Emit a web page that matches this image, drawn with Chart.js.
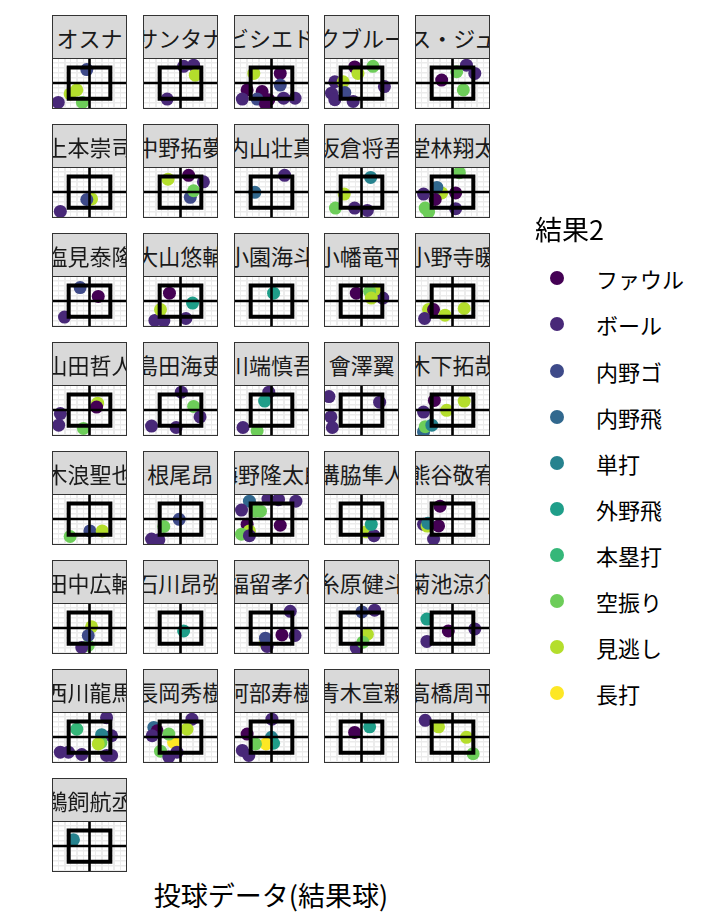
<!DOCTYPE html>
<html><head><meta charset="utf-8">
<script src="https://cdn.jsdelivr.net/npm/chart.js@4.4.0/dist/chart.umd.min.js"></script>
<style>
body{margin:0;width:720px;height:921px;background:#fff;position:relative;overflow:hidden;font-family:"Noto Sans CJK JP","Noto Sans",sans-serif;}
.strip{position:absolute;width:75px;height:44px;box-sizing:border-box;border:1.3px solid #333;background:#d9d9d9;display:flex;justify-content:center;align-items:center;overflow:hidden;font-size:22px;color:#1a1a1a;white-space:nowrap;}
.plot{position:absolute;width:75px;height:50px;}
.frame{position:absolute;box-sizing:border-box;border:1.3px solid #333;width:75px;height:51px;pointer-events:none;}
.lgTitle{position:absolute;left:535px;top:212px;font-size:27px;line-height:34px;color:#000;white-space:nowrap;}
.lgDot{position:absolute;width:14px;height:14px;border-radius:50%;}
.lgLab{position:absolute;font-size:22px;line-height:30px;color:#000;white-space:nowrap;}
.xTitle{position:absolute;left:0;width:542px;top:878px;text-align:center;font-size:27px;line-height:34px;color:#000;}
</style></head>
<body>
<script>
const results = ["ファウル","ボール","内野ゴ","内野飛","単打","外野飛","本塁打","空振り","見逃し","長打"];
const resultColors = ["#440154","#482878","#3E4A89","#31688E","#26828E","#1F9E89","#35B779","#6DCD59","#B4DE2C","#FDE725"];
const players = ["オスナ","サンタナ","ビシエド","マクブルーム","ロハス・ジュニア","上本崇司","中野拓夢","内山壮真","坂倉将吾","堂林翔太","塩見泰隆","大山悠輔","小園海斗","小幡竜平","小野寺暖","山田哲人","島田海吏","川端慎吾","會澤翼","木下拓哉","木浪聖也","根尾昂","梅野隆太郎","溝脇隼人","熊谷敬宥","田中広輔","石川昂弥","福留孝介","糸原健斗","菊池涼介","西川龍馬","長岡秀樹","阿部寿樹","青木宣親","高橋周平","鵜飼航丞"];
const xRange = [-1.8, 1.8];
const yRange = [-1.6, 1.6];
const zoneX = [-1, 1];
const zoneY = [-1, 1];
const xTitle = "投球データ(結果球)";
const legendTitle = "結果2";
// [player, x, y, result]
const pitches = [
["オスナ",-0.13,0.86,"内野ゴ"],["オスナ",-0.93,-0.7,"見逃し"],["オスナ",-0.61,-0.44,"見逃し"],["オスナ",-1.5,-1.24,"ボール"],["オスナ",-0.34,-1.24,"空振り"],
["サンタナ",0.15,1.07,"ボール"],["サンタナ",0.63,1.14,"ボール"],["サンタナ",0.71,0.5,"見逃し"],["サンタナ",-0.64,-1.03,"ボール"],
["ビシエド",-0.85,0.61,"見逃し"],["ビシエド",0.42,0.61,"ファウル"],["ビシエド",0.42,-0.13,"内野ゴ"],["ビシエド",-1.17,-0.44,"ファウル"],["ビシエド",-0.45,-0.55,"ファウル"],["ビシエド",-1.40,-1.03,"ボール"],["ビシエド",-0.69,-1.03,"内野ゴ"],["ビシエド",-0.13,-1.07,"ファウル"],["ビシエド",0.58,-0.97,"ボール"],["ビシエド",1.13,-0.97,"ボール"],["ビシエド",-0.29,-1.33,"ファウル"],
["マクブルーム",-0.33,1.03,"ファウル"],["マクブルーム",0.55,1.07,"空振り"],["マクブルーム",-0.17,0.61,"見逃し"],["マクブルーム",-1.28,0.08,"ボール"],["マクブルーム",-0.88,0.08,"見逃し"],["マクブルーム",-1.44,-0.65,"ボール"],["マクブルーム",-0.80,-0.61,"内野ゴ"],["マクブルーム",-1.28,-1.07,"ボール"],["マクブルーム",-0.40,-1.18,"ボール"],["マクブルーム",1.10,-0.23,"ボール"],
["ロハス・ジュニア",0.67,1.14,"ボール"],["ロハス・ジュニア",0.2,0.72,"空振り"],["ロハス・ジュニア",1.07,0.61,"ボール"],["ロハス・ジュニア",-0.52,0.19,"ファウル"],["ロハス・ジュニア",0.52,-0.44,"空振り"],
["上本崇司",0.1,-0.44,"見逃し"],["上本崇司",-0.13,-0.48,"内野ゴ"],["上本崇司",-1.40,-1.24,"ボール"],
["中野拓夢",-0.6,0.82,"見逃し"],["中野拓夢",0.39,1.07,"ファウル"],["中野拓夢",1.10,0.65,"ボール"],["中野拓夢",0.47,-0.34,"内野ゴ"],["中野拓夢",0.63,0.08,"空振り"],
["内山壮真",0.63,1.07,"ボール"],["内山壮真",-0.80,-0.02,"内野飛"],
["坂倉将吾",0.44,0.93,"単打"],["坂倉将吾",-0.83,-0.13,"見逃し"],["坂倉将吾",-1.25,-1.03,"空振り"],["坂倉将吾",-0.33,-1.03,"ボール"],["坂倉将吾",0.28,-1.18,"ボール"],
["堂林翔太",0.33,1.24,"空振り"],["堂林翔太",-0.52,-0.06,"見逃し"],["堂林翔太",-0.75,0.29,"内野飛"],["堂林翔太",-1.39,-0.13,"ボール"],["堂林翔太",-0.83,-0.48,"ファウル"],["堂林翔太",0.15,-0.06,"ファウル"],["堂林翔太",-1.31,-1.03,"空振り"],["堂林翔太",0.15,-1.07,"ボール"],["堂林翔太",-1.15,-1.28,"空振り"],
["塩見泰隆",-0.45,0.86,"内野ゴ"],["塩見泰隆",0.42,0.29,"ファウル"],["塩見泰隆",-1.20,-1.03,"ボール"],
["大山悠輔",-0.53,0.5,"ファウル"],["大山悠輔",0.58,-0.13,"外野飛"],["大山悠輔",-1.23,-1.24,"ボール"],["大山悠輔",-0.80,-1.28,"ボール"],["大山悠輔",-0.96,-0.55,"見逃し"],["大山悠輔",0.26,-1.12,"ボール"],
["小園海斗",0.10,0.5,"外野飛"],
["小幡竜平",-0.25,0.5,"ファウル"],["小幡竜平",1.02,0.19,"ボール"],["小幡竜平",0.63,0.72,"見逃し"],["小幡竜平",0.39,0.61,"空振り"],["小幡竜平",0.47,0.19,"見逃し"],
["小野寺暖",-1.15,-0.55,"見逃し"],["小野寺暖",-1.34,-1.12,"ボール"],["小野寺暖",-0.91,-0.55,"ファウル"],["小野寺暖",-0.36,-0.91,"見逃し"],["小野寺暖",0.56,-0.48,"見逃し"],
["山田哲人",0.39,0.44,"見逃し"],["山田哲人",0.34,0.19,"ファウル"],["山田哲人",-1.40,-0.23,"ボール"],["山田哲人",-1.48,-0.97,"ボール"],["山田哲人",-0.29,-1.18,"空振り"],
["島田海吏",0.04,1.14,"ボール"],["島田海吏",0.63,0.23,"空振り"],["島田海吏",0.94,-0.44,"ボール"],["島田海吏",-1.39,-1.03,"ボール"],["島田海吏",-0.21,-1.12,"ボール"],
["川端慎吾",-0.13,1.14,"ボール"],["川端慎吾",-0.33,0.57,"外野飛"],["川端慎吾",-1.37,-1.12,"ボール"],["川端慎吾",-0.69,-1.33,"空振り"],
["會澤翼",-1.56,0.86,"ボール"],["會澤翼",0.87,0.5,"ボール"],["會澤翼",-1.47,-0.44,"ボール"],["會澤翼",-1.40,-1.12,"ボール"],
["木下拓哉",-0.87,0.61,"ファウル"],["木下拓哉",0.56,0.57,"見逃し"],["木下拓哉",-1.39,-0.13,"ボール"],["木下拓哉",-0.28,-0.02,"見逃し"],["木下拓哉",-1.39,-1.39,"内野飛"],["木下拓哉",-1.31,-1.07,"空振り"],["木下拓哉",-0.99,-0.97,"単打"],
["木浪聖也",0.02,-0.76,"内野ゴ"],["木浪聖也",0.61,-0.76,"見逃し"],["木浪聖也",-0.93,-1.12,"空振り"],
["根尾昂",-0.06,-0.02,"内野ゴ"],["根尾昂",-0.80,-0.48,"空振り"],["根尾昂",-1.39,-1.28,"ボール"],["根尾昂",-1.04,-1.33,"ボール"],
["梅野隆太郎",-1.06,1.14,"内野飛"],["梅野隆太郎",-0.17,1.28,"ボール"],["梅野隆太郎",0.34,1.24,"ボール"],["梅野隆太郎",1.17,1.14,"ボール"],["梅野隆太郎",-1.44,0.57,"ボール"],["梅野隆太郎",-0.77,0.5,"空振り"],["梅野隆太郎",-0.53,0.5,"空振り"],["梅野隆太郎",-1.17,-0.34,"ファウル"],["梅野隆太郎",0.42,-0.4,"ファウル"],["梅野隆太郎",-1.06,-0.76,"見逃し"],["梅野隆太郎",-1.44,-0.97,"空振り"],["梅野隆太郎",-1.06,-1.07,"ボール"],
["溝脇隼人",0.23,-0.82,"見逃し"],["溝脇隼人",0.6,-1.07,"ボール"],["溝脇隼人",0.47,-0.34,"外野飛"],
["熊谷敬宥",-0.6,0.82,"ファウル"],["熊谷敬宥",-1.39,-0.34,"ボール"],["熊谷敬宥",-1.22,-0.45,"見逃し"],["熊谷敬宥",-1.18,-0.27,"単打"],["熊谷敬宥",-0.67,-0.44,"ファウル"],["熊谷敬宥",-0.91,-1.28,"ボール"],
["田中広輔",0.1,0.08,"見逃し"],["田中広輔",-0.06,-1.12,"空振り"],["田中広輔",-0.06,-0.48,"内野ゴ"],["田中広輔",-0.37,-1.24,"ボール"],
["石川昂弥",0.15,-0.19,"外野飛"],
["福留孝介",0.9,1.07,"ボール"],["福留孝介",-0.29,-0.97,"見逃し"],["福留孝介",-0.21,-1.18,"ボール"],["福留孝介",-0.29,-0.65,"内野ゴ"],["福留孝介",0.5,-0.44,"ファウル"],["福留孝介",1.13,-0.48,"ボール"],
["糸原健斗",0.02,1.03,"内野ゴ"],["糸原健斗",0.63,1.14,"ボール"],["糸原健斗",0.28,-0.4,"見逃し"],["糸原健斗",-0.25,-1.28,"ボール"],["糸原健斗",0.07,-0.91,"空振り"],
["菊池涼介",-1.23,0.57,"外野飛"],["菊池涼介",-0.2,-0.19,"ファウル"],["菊池涼介",1.07,-0.06,"ボール"],["菊池涼介",-1.23,-0.86,"ボール"],
["西川龍馬",0.82,1.24,"ボール"],["西川龍馬",-0.61,0.5,"本塁打"],["西川龍馬",1.06,0.08,"ボール"],["西川龍馬",0.58,0.15,"単打"],["西川龍馬",0.55,-0.35,"空振り"],["西川龍馬",0.42,-0.44,"見逃し"],["西川龍馬",-1.40,-0.97,"ボール"],["西川龍馬",-1.01,-0.97,"ボール"],["西川龍馬",-0.37,-1.12,"ボール"],["西川龍馬",0.82,-1.18,"ボール"],["西川龍馬",1.06,-1.18,"ボール"],
["長岡秀樹",-1.28,0.61,"内野飛"],["長岡秀樹",-1.12,0.4,"ファウル"],["長岡秀樹",-1.36,0.08,"ボール"],["長岡秀樹",0.55,1.14,"ボール"],["長岡秀樹",0.31,0.5,"見逃し"],["長岡秀樹",-0.33,-0.34,"長打"],["長岡秀樹",-0.56,0.19,"空振り"],["長岡秀樹",-0.96,-0.91,"空振り"],["長岡秀樹",-0.17,-0.97,"ボール"],["長岡秀樹",-0.56,-1.28,"ボール"],
["阿部寿樹",0.02,1.14,"ボール"],["阿部寿樹",-1.17,0.19,"ファウル"],["阿部寿樹",0.0,-0.02,"単打"],["阿部寿樹",0.1,-0.4,"外野飛"],["阿部寿樹",-0.26,-0.44,"長打"],["阿部寿樹",-0.77,-0.44,"空振り"],["阿部寿樹",-1.4,-0.86,"ボール"],["阿部寿樹",-1.09,-1.18,"ボール"],
["青木宣親",-0.33,0.29,"ファウル"],["青木宣親",0.39,0.65,"外野飛"],
["高橋周平",-1.31,1.07,"ボール"],["高橋周平",-0.67,0.65,"見逃し"],["高橋周平",0.67,-0.02,"見逃し"],["高橋周平",0.99,-1.07,"空振り"],
["鵜飼航丞",-0.77,0.4,"単打"]
];

const COLS = 5, PANEL_W = 75, PANEL_H = 50, COL_PITCH = 90.75, ROW_PITCH = 109, LEFT0 = 52, TOP0 = 15, STRIP_H = 43;

function el(tag, cls, parent){ const e=document.createElement(tag); if(cls) e.className=cls; (parent||document.body).appendChild(e); return e; }

const boxPath = [
  {x:(zoneX[0]+zoneX[1])/2,y:zoneY[0]},{x:zoneX[1],y:zoneY[0]},{x:zoneX[1],y:zoneY[1]},
  {x:zoneX[0],y:zoneY[1]},{x:zoneX[0],y:zoneY[0]},{x:(zoneX[0]+zoneX[1])/2,y:zoneY[0]}
];
const hLine = [{x:xRange[0],y:0},{x:xRange[1],y:0}];
const vLine = [{x:0,y:yRange[0]},{x:0,y:yRange[1]}];

players.forEach((name, i) => {
  const col = i % COLS, row = Math.floor(i / COLS);
  const left = LEFT0 + col * COL_PITCH, top = TOP0 + row * ROW_PITCH;
  const strip = el('div','strip'); strip.style.left = left+'px'; strip.style.top = top+'px';
  const sp = el('span',null,strip); sp.textContent = name;
  const holder = el('div','plot'); holder.style.left = left+'px'; holder.style.top = (top+STRIP_H)+'px';
  const cv = el('canvas',null,holder); cv.width = PANEL_W; cv.height = PANEL_H;
  cv.style.width = PANEL_W+'px'; cv.style.height = PANEL_H+'px';
  const frame = el('div','frame'); frame.style.left = left+'px'; frame.style.top = (top+STRIP_H-0.5)+'px';
  const pts = pitches.filter(p => p[0] === name);
  const lineDs = (data, w) => ({type:'line', data, showLine:true, borderColor:'#000', borderWidth:w, pointRadius:0, fill:false, tension:0, order:0, clip:0, borderJoinStyle:'miter', borderCapStyle:'butt'});
  new Chart(cv, {
    type:'scatter',
    data:{datasets:[
      lineDs(boxPath, 4),
      lineDs(hLine, 2.6),
      lineDs(vLine, 2.6),
      {type:'scatter', data: pts.map(p => ({x:p[1], y:p[2]})),
       pointBackgroundColor: pts.map(p => resultColors[results.indexOf(p[3])]),
       pointBorderWidth:0, pointRadius:6.5, pointHoverRadius:6.5, order:1, clip:0}
    ]},
    options:{
      responsive:false, animation:false, devicePixelRatio:1,
      layout:{padding:0, autoPadding:false},
      events:[],
      plugins:{legend:{display:false}, tooltip:{enabled:false}},
      scales:{
        x:{type:'linear', min:xRange[0], max:xRange[1],
           ticks:{display:false, stepSize:0.3},
           grid:{color:'#ebebeb', lineWidth:(c)=> (Math.round(c.tick.value/0.3)%2===0?2:1), drawTicks:false},
           border:{display:false}},
        y:{type:'linear', min:yRange[0], max:yRange[1],
           ticks:{display:false, stepSize:0.32},
           grid:{color:'#ebebeb', lineWidth:1.6, drawTicks:false},
           border:{display:false}}
      }
    }
  });
});

// legend
const lt = el('div','lgTitle'); lt.textContent = legendTitle;
results.forEach((r, i) => {
  const yc = 278.3 + i * 46.1;
  const d = el('div','lgDot'); d.style.left = '550px'; d.style.top = (yc-7)+'px'; d.style.background = resultColors[i];
  const l = el('div','lgLab'); l.style.left = '596px'; l.style.top = (yc-15)+'px'; l.textContent = r;
});
const xt = el('div','xTitle'); xt.textContent = xTitle;
</script>
</body></html>
